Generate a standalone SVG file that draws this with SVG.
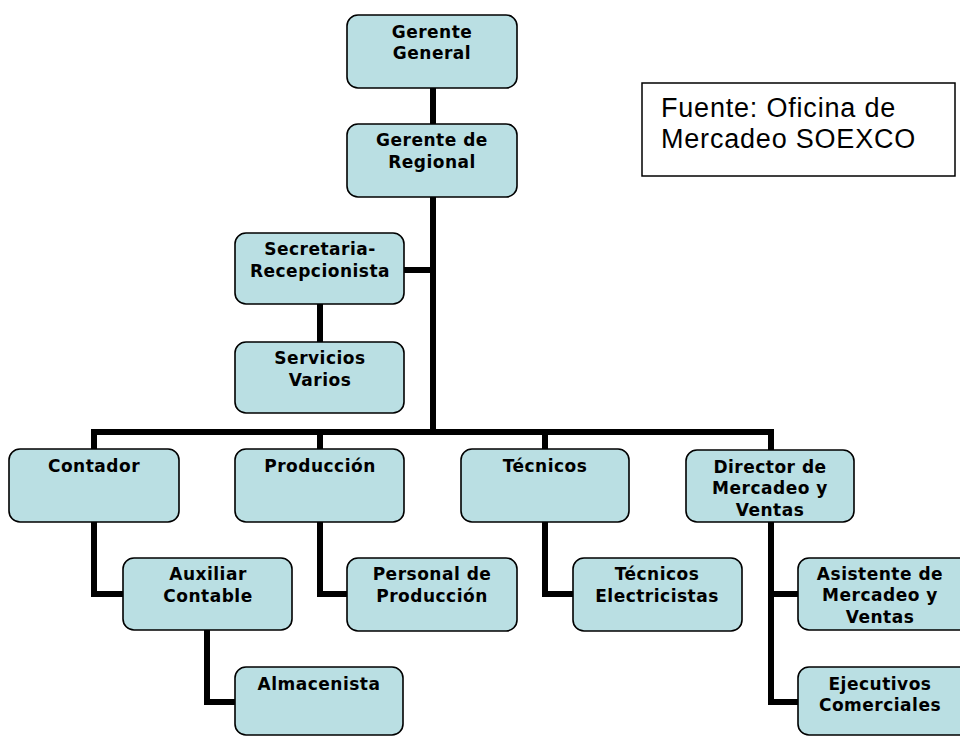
<svg xmlns="http://www.w3.org/2000/svg" width="960" height="736" viewBox="0 0 960 736">
<style>
.box{fill:#BADFE3;stroke:#000;stroke-width:1.6}
.t{font-family:"DejaVu Sans",Verdana,sans-serif;font-weight:bold;font-size:17px;letter-spacing:0.5px;text-anchor:middle;fill:#000}
.c{fill:none;stroke:#000;stroke-width:6;stroke-linejoin:miter;stroke-linecap:butt}
.src{font-family:"Liberation Sans",Arial,sans-serif;font-size:27px;letter-spacing:0.8px;fill:#000}
</style>
<rect width="960" height="736" fill="#fff"/>
<g id="connectors">
<path class="c" d="M433 88 V432"/>
<path class="c" d="M404 270 H433"/>
<path class="c" d="M320 304 V342"/>
<path class="c" d="M94 450 V432 H771 V450"/>
<path class="c" d="M320 432 V450"/>
<path class="c" d="M545 432 V450"/>
<path class="c" d="M94 522 V594 H124"/>
<path class="c" d="M207 630 V702 H236"/>
<path class="c" d="M320 522 V594 H348"/>
<path class="c" d="M545 522 V594 H574"/>
<path class="c" d="M771 522 V702 H799"/>
<path class="c" d="M771 594 H799"/>
</g>
<g id="gerente-general"><rect class="box" x="347" y="15" width="170" height="73" rx="11"/><text class="t" x="432" y="38">Gerente</text><text class="t" x="432" y="59">General</text></g>
<g id="gerente-regional"><rect class="box" x="347" y="124" width="170" height="73" rx="11"/><text class="t" x="432" y="146">Gerente de</text><text class="t" x="432" y="168">Regional</text></g>
<g id="secretaria"><rect class="box" x="235" y="233" width="169" height="71" rx="11"/><text class="t" x="320" y="255">Secretaria-</text><text class="t" x="320" y="277">Recepcionista</text></g>
<g id="servicios"><rect class="box" x="235" y="342" width="169" height="71" rx="11"/><text class="t" x="320" y="364">Servicios</text><text class="t" x="320" y="386">Varios</text></g>
<g id="contador"><rect class="box" x="9" y="449" width="170" height="73" rx="11"/><text class="t" x="94" y="472">Contador</text></g>
<g id="produccion"><rect class="box" x="235" y="449" width="169" height="73" rx="11"/><text class="t" x="320" y="472">Producción</text></g>
<g id="tecnicos"><rect class="box" x="461" y="449" width="168" height="73" rx="11"/><text class="t" x="545" y="472">Técnicos</text></g>
<g id="director"><rect class="box" x="686" y="450" width="168" height="72" rx="11"/><text class="t" x="770" y="473">Director de</text><text class="t" x="770" y="494">Mercadeo y</text><text class="t" x="770" y="516">Ventas</text></g>
<g id="auxiliar"><rect class="box" x="123" y="558" width="169" height="72" rx="11"/><text class="t" x="208" y="580">Auxiliar</text><text class="t" x="208" y="602">Contable</text></g>
<g id="personal"><rect class="box" x="347" y="558" width="170" height="73" rx="11"/><text class="t" x="432" y="580">Personal de</text><text class="t" x="432" y="602">Producción</text></g>
<g id="tecnicos-electricistas"><rect class="box" x="573" y="558" width="169" height="73" rx="11"/><text class="t" x="657" y="580">Técnicos</text><text class="t" x="657" y="602">Electricistas</text></g>
<g id="asistente"><rect class="box" x="798" y="558" width="175" height="72" rx="11"/><text class="t" x="880" y="580">Asistente de</text><text class="t" x="880" y="601">Mercadeo y</text><text class="t" x="880" y="623">Ventas</text></g>
<g id="almacenista"><rect class="box" x="235" y="667" width="168" height="68" rx="11"/><text class="t" x="319" y="690">Almacenista</text></g>
<g id="ejecutivos"><rect class="box" x="798" y="667" width="175" height="68" rx="11"/><text class="t" x="880" y="690">Ejecutivos</text><text class="t" x="880" y="711">Comerciales</text></g>
<g id="fuente"><rect x="642" y="83" width="313" height="93" fill="#fff" stroke="#000" stroke-width="1.5"/><text class="src" x="661" y="117">Fuente: Oficina de</text><text class="src" x="661" y="148">Mercadeo SOEXCO</text></g>
</svg>
